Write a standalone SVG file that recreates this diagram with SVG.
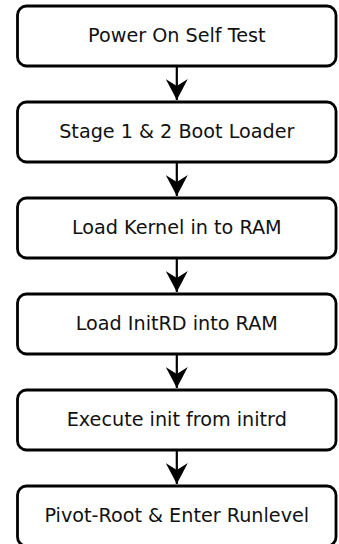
<svg xmlns="http://www.w3.org/2000/svg" width="339" height="544" viewBox="0 0 339 544">
<style>
.box{fill:#fff;stroke:#000;stroke-width:2.8}
.lbl{font-family:"DejaVu Sans",sans-serif;font-size:19.2px;fill:#111;text-anchor:middle}
.conn{stroke:#000;stroke-width:2.2;fill:none}
</style>
<defs>
<marker id="ah" viewBox="0 0 22 22" refX="21" refY="11" markerWidth="22" markerHeight="22" markerUnits="userSpaceOnUse" orient="auto">
<path d="M0,0 L21,11 L0,22 L7,11 Z" fill="#000"/>
</marker>
</defs>
<rect width="339" height="544" fill="#fff"/>
<g id="connectors">
<line class="conn" x1="176.8" y1="67" x2="176.8" y2="100" marker-end="url(#ah)"/>
<line class="conn" x1="176.8" y1="163" x2="176.8" y2="196" marker-end="url(#ah)"/>
<line class="conn" x1="176.8" y1="259" x2="176.8" y2="292" marker-end="url(#ah)"/>
<line class="conn" x1="176.8" y1="355" x2="176.8" y2="388" marker-end="url(#ah)"/>
<line class="conn" x1="176.8" y1="451" x2="176.8" y2="484" marker-end="url(#ah)"/>
</g>
<g id="post"><rect class="box" x="17.5" y="6" width="318.5" height="60" rx="9"/><text class="lbl" x="176.8" y="41.7">Power On Self Test</text></g>
<g id="bootloader"><rect class="box" x="17.5" y="102" width="318.5" height="60" rx="9"/><text class="lbl" x="176.8" y="137.7">Stage 1 &amp; 2 Boot Loader</text></g>
<g id="kernel"><rect class="box" x="17.5" y="198" width="318.5" height="60" rx="9"/><text class="lbl" x="176.8" y="233.7">Load Kernel in to RAM</text></g>
<g id="initrd"><rect class="box" x="17.5" y="294" width="318.5" height="60" rx="9"/><text class="lbl" x="176.8" y="329.7">Load InitRD into RAM</text></g>
<g id="init"><rect class="box" x="17.5" y="390" width="318.5" height="60" rx="9"/><text class="lbl" x="176.8" y="425.7">Execute init from initrd</text></g>
<g id="pivot"><rect class="box" x="17.5" y="486" width="318.5" height="60" rx="9"/><text class="lbl" x="176.8" y="521.7">Pivot-Root &amp; Enter Runlevel</text></g>
</svg>
